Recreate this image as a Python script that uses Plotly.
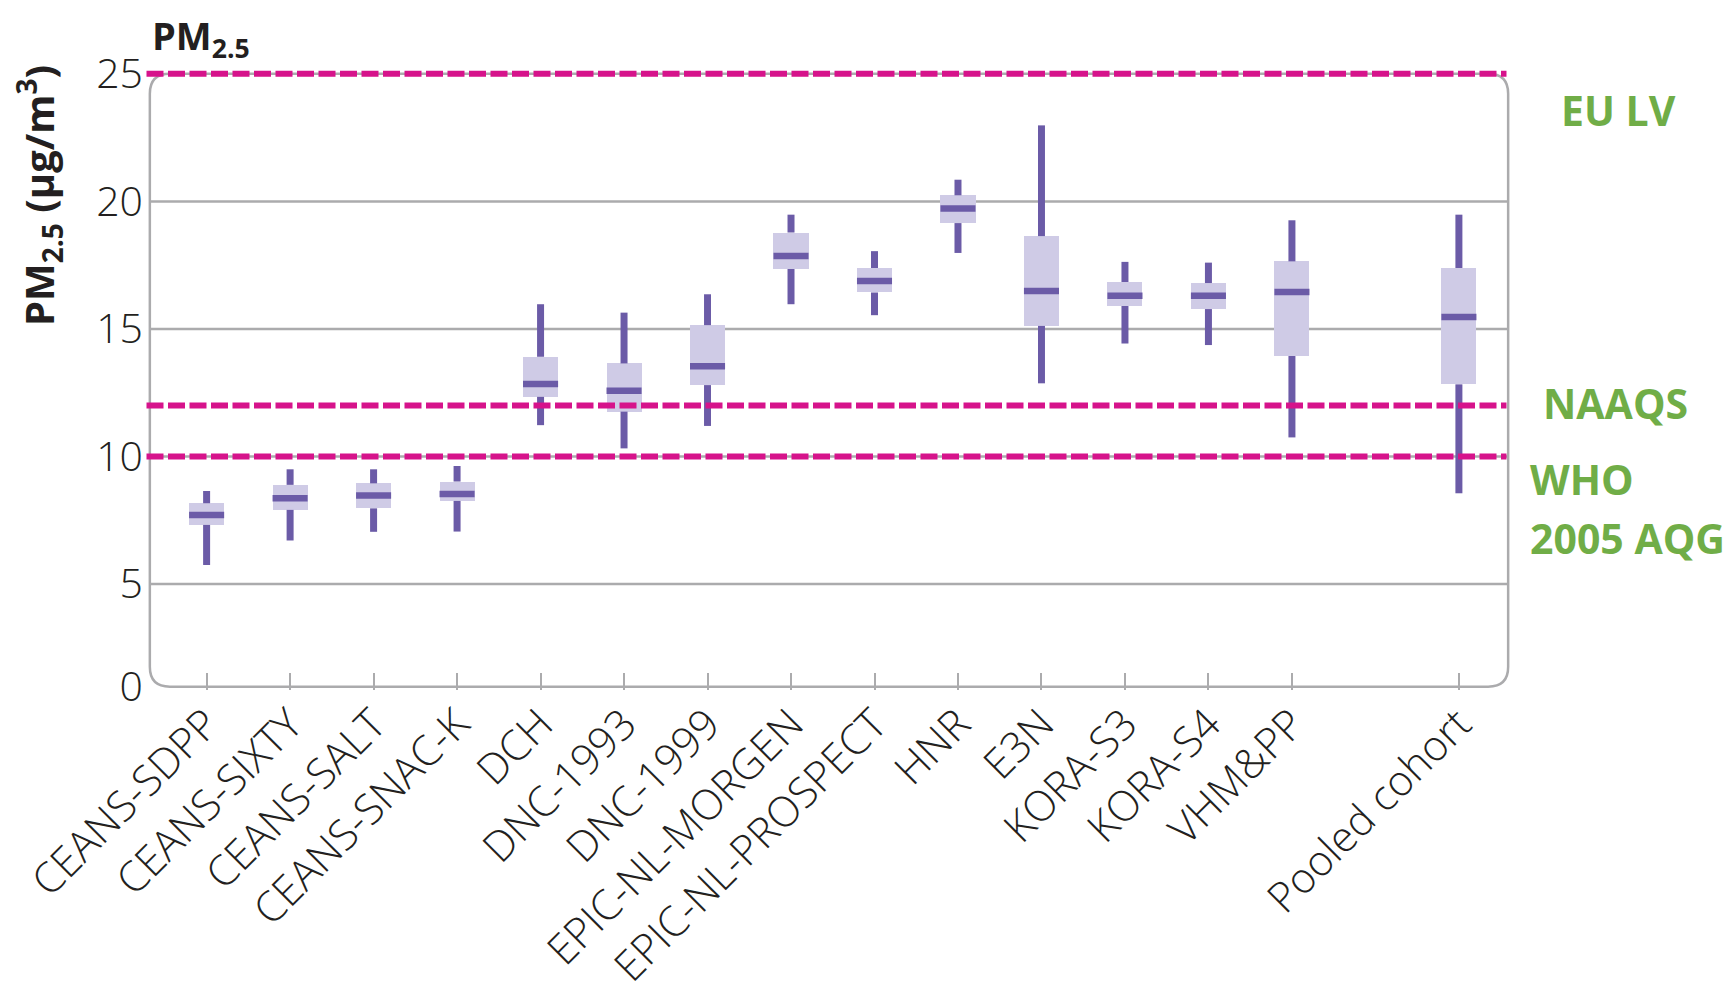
import plotly.graph_objects as go

# ---------------- data ----------------
cohorts = ["CEANS-SDPP", "CEANS-SIXTY", "CEANS-SALT", "CEANS-SNAC-K", "DCH",
           "DNC-1993", "DNC-1999", "EPIC-NL-MORGEN", "EPIC-NL-PROSPECT", "HNR",
           "E3N", "KORA-S3", "KORA-S4", "VHM&PP", "Pooled cohort"]
whisker_low = [5.75, 6.71, 7.05, 7.06, 11.23, 10.32, 11.20, 15.97, 15.54, 17.98,
               12.87, 14.43, 14.37, 10.75, 8.56]
q1 = [7.32, 7.91, 7.97, 8.26, 12.34, 11.76, 12.80, 17.35, 16.43, 19.15,
      15.12, 15.90, 15.78, 13.94, 12.83]
median = [7.71, 8.37, 8.47, 8.53, 12.84, 12.58, 13.54, 17.86, 16.88, 19.72,
          16.49, 16.30, 16.30, 16.45, 15.47]
q3 = [8.17, 8.89, 8.95, 9.02, 13.91, 13.65, 15.15, 18.78, 17.39, 20.24,
      18.64, 16.84, 16.80, 17.65, 17.39]
whisker_high = [8.65, 9.50, 9.50, 9.63, 15.97, 15.64, 16.36, 19.48, 18.05, 20.85,
                22.98, 17.63, 17.60, 19.26, 19.48]

limit_names = ["EU LV", "NAAQS", "WHO", "2005 AQG"]
limit_values = [25, 12, 10]
y_tick_values = [5, 10, 15, 20, 25]
y_tick_labels = ["5", "10", "15", "20", "25"]
axis_floor_label = "0"

# ---------------- layout helpers ----------------
# slot positions: one empty slot before the pooled cohort
slots = list(range(len(cohorts) - 1)) + [len(cohorts)]
box_w = 0.42
axis_floor = 0.98          # broken axis: "0" is drawn at the frame bottom
frame_x0, frame_x1 = -0.68, 15.59
frame_y0, frame_y1 = axis_floor, 25.0
rx, ry = 0.24, 0.78

DARK = "#6B5BA7"
LIGHT = "#CFCBE6"
MAGENTA = "#D6138B"
GRID = "#ABABAD"
GREEN = "#70AD47"
TXT = "#231F20"
FONT = "Open Sans"

fig = go.Figure()

# boxes (q1..q3)
fig.add_trace(go.Bar(
    x=slots, base=q1, y=[b - a for a, b in zip(q1, q3)], width=box_w,
    marker=dict(color=LIGHT, line=dict(width=0)), hoverinfo="skip",
    showlegend=False))

# whiskers (drawn as two segments so they don't cross the box)
wx, wy = [], []
for s, lo, a, b, hi in zip(slots, whisker_low, q1, q3, whisker_high):
    wx += [s, s, None, s, s, None]
    wy += [lo, a, None, b, hi, None]
fig.add_trace(go.Scatter(x=wx, y=wy, mode="lines",
                         line=dict(color=DARK, width=7),
                         hoverinfo="skip", showlegend=False))

# medians
mx, my = [], []
for s, m in zip(slots, median):
    mx += [s - box_w / 2, s + box_w / 2, None]
    my += [m, m, None]
fig.add_trace(go.Scatter(x=mx, y=my, mode="lines",
                         line=dict(color=DARK, width=6.5),
                         hoverinfo="skip", showlegend=False))

shapes = []
# gridlines inside the frame
for v in y_tick_values[:-1]:
    shapes.append(dict(type="line", xref="x", yref="y", x0=frame_x0, x1=frame_x1,
                       y0=v, y1=v, line=dict(color=GRID, width=2.5), layer="below"))
# rounded frame
path = (f"M {frame_x0 + rx},{frame_y1} L {frame_x1 - rx},{frame_y1} "
        f"Q {frame_x1},{frame_y1} {frame_x1},{frame_y1 - ry} "
        f"L {frame_x1},{frame_y0 + ry} Q {frame_x1},{frame_y0} {frame_x1 - rx},{frame_y0} "
        f"L {frame_x0 + rx},{frame_y0} Q {frame_x0},{frame_y0} {frame_x0},{frame_y0 + ry} "
        f"L {frame_x0},{frame_y1 - ry} Q {frame_x0},{frame_y1} {frame_x0 + rx},{frame_y1} Z")
shapes.append(dict(type="path", xref="x", yref="y", path=path,
                   line=dict(color=GRID, width=2.5), layer="below"))
# limit value lines
for v in limit_values:
    shapes.append(dict(type="line", xref="x", yref="y", x0=frame_x0 - 0.04, x1=frame_x1 - 0.02,
                       y0=v, y1=v, line=dict(color=MAGENTA, width=6, dash="17px,4.5px"),
                       layer="above"))

annotations = [
    dict(text="<b>PM<sub>2.5</sub> (µg/m<sup>3</sup>)</b>", textangle=-90,
         xref="paper", yref="paper", x=-0.0765, y=0.797, xanchor="center", yanchor="middle",
         showarrow=False, font=dict(family=FONT, size=40, color=TXT)),
    dict(text="<b>PM<sub>2.5</sub></b>", xref="paper", yref="paper", x=0.0044, y=1.053,
         xanchor="left", yanchor="middle", showarrow=False,
         font=dict(family=FONT, size=38, color=TXT)),
]
label_pos = [(1.0330, 0.935), (1.0200, 0.463), (1.0105, 0.340), (1.0105, 0.245)]
for name, (px, py) in zip(limit_names, label_pos):
    annotations.append(dict(text=f"<b>{name}</b>", xref="paper", yref="paper", x=px, y=py,
                            xanchor="left", yanchor="middle", showarrow=False,
                            font=dict(family=FONT, size=41, color=GREEN)))

fig.update_layout(
    width=1732, height=991,
    margin=dict(l=136, r=226, t=62, b=309, autoexpand=False),
    plot_bgcolor="white", paper_bgcolor="white",
    shapes=shapes, annotations=annotations,
    bargap=0, showlegend=False,
    xaxis=dict(range=[-0.75, 15.66], tickmode="array", tickvals=slots, ticktext=cohorts,
               tickangle=-45, ticks="inside", ticklen=17, tickwidth=2, tickcolor=GRID,
               showgrid=False, zeroline=False, showline=False, automargin=False,
               tickfont=dict(family=FONT, size=42, color=TXT, weight=300)),
    yaxis=dict(range=[0.85, 25.15], tickmode="array",
               tickvals=[axis_floor] + y_tick_values,
               ticktext=[axis_floor_label] + y_tick_labels,
               ticks="", showgrid=False, zeroline=False, showline=False, automargin=False,
               tickfont=dict(family=FONT, size=41, color=TXT, weight=300)),
)

fig.write_html("out.html")
